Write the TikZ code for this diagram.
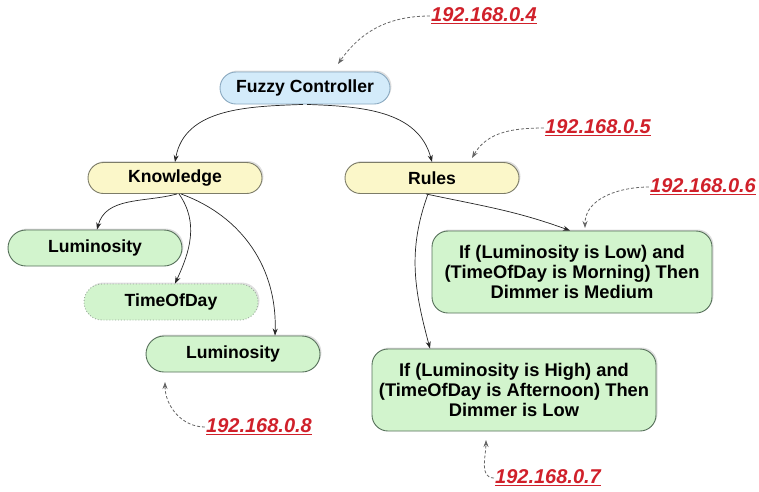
\documentclass[tikz,border=0pt]{standalone}
\usepackage{fontspec}
\setmainfont{Liberation Sans}
\usetikzlibrary{arrows.meta,shapes.misc,shadows}
\definecolor{fcfill}{HTML}{D3EBFA}
\definecolor{fcline}{HTML}{8AA9C0}
\definecolor{yfill}{HTML}{FBF7C9}
\definecolor{yline}{HTML}{7C7C68}
\definecolor{gfill}{HTML}{D2F4CD}
\definecolor{gline}{HTML}{56705A}
\definecolor{ipred}{HTML}{D0202A}
\tikzset{
  pill/.style={rounded rectangle, draw=#1, line width=0.9pt, font=\bfseries\fontsize{17.6}{20}\selectfont, inner sep=0pt,
    drop shadow={shadow xshift=1.5pt, shadow yshift=1.5pt, opacity=0.25}},
  ctrl/.style={pill=fcline, fill=fcfill, minimum width=170pt, minimum height=32pt},
  topic/.style={pill=yline, fill=yfill, minimum width=174pt, minimum height=31pt},
  leaf/.style={pill=gline, fill=gfill, minimum width=174pt, minimum height=36pt},
  dimleaf/.style={leaf, draw=gline!60, dotted},
  rulebox/.style={draw=gline, fill=gfill, line width=0.9pt, rounded corners=16pt, align=center,
    font=\bfseries\fontsize{18.3}{19.6}\selectfont, minimum height=82pt,
    drop shadow={shadow xshift=1.5pt, shadow yshift=1.5pt, opacity=0.25}},
  ip/.style={text=ipred, font=\bfseries\itshape\fontsize{20}{22}\selectfont, inner sep=1pt},
  link/.style={-{Stealth[length=7pt,width=5pt]}, line width=0.7pt, draw=black!85},
  hostlink/.style={-{Stealth[length=7pt,width=5pt]}, line width=0.8pt, draw=black!60, dash pattern=on 3pt off 2pt}
}
\newcommand{\ipaddr}[1]{\underline{#1}}
\begin{document}
\begin{tikzpicture}[x=1pt,y=-1pt]
\useasboundingbox (0,0) rectangle (759,491);

% tree nodes
\node[ctrl]  (fc)  at (305,88)  {Fuzzy Controller};
\node[topic] (kn)  at (175,178) {Knowledge};
\node[topic] (ru)  at (432,178) {Rules};
\node[leaf]  (lu1) at (95,248)  {Luminosity};
\node[dimleaf] (tod) at (171,302) {TimeOfDay};
\node[leaf]  (lu2) at (233,354) {Luminosity};
\node[rulebox, minimum width=280pt] (r1) at (572,272)
  {If (Luminosity is Low) and\\(TimeOfDay is Morning) Then\\Dimmer is Medium};
\node[rulebox, minimum width=284pt] (r2) at (514,390)
  {If (Luminosity is High) and\\(TimeOfDay is Afternoon) Then\\Dimmer is Low};

% host addresses
\node[ip] (h4) at (484,16)  {\ipaddr{192.168.0.4}};
\node[ip] (h5) at (598,128) {\ipaddr{192.168.0.5}};
\node[ip] (h6) at (703,187) {\ipaddr{192.168.0.6}};
\node[ip] (h8) at (259,427) {\ipaddr{192.168.0.8}};
\node[ip] (h7) at (548,478) {\ipaddr{192.168.0.7}};

% targets of the dashed host pointers
\coordinate (t4) at (338,64);
\coordinate (t5) at (472,158);
\coordinate (t6) at (585,228);
\coordinate (t8) at (165,382);
\coordinate (t7) at (486,440);

% tree links
\draw[link] ([xshift=-2pt]fc.south) to[out=182,in=80] (kn.north);
\draw[link] ([xshift=2pt]fc.south)  to[out=-2,in=105] (ru.north);
\draw[link] ([xshift=2pt]kn.south)  to[out=195,in=75] ([xshift=2pt]lu1.north);
\draw[link] ([xshift=4pt]kn.south)  to[out=-55,in=65] ([xshift=4pt]tod.north);
\draw[link] ([xshift=6pt]kn.south)  to[out=-20,in=88] ([xshift=42pt]lu2.north);
\draw[link] ([xshift=-6pt]ru.south) to[out=-12,in=160] ([xshift=-2pt]r1.north);
\draw[link] ([xshift=-4pt]ru.south) to[out=-110,in=105] ([xshift=-84pt]r2.north);

% host pointers
\draw[hostlink] (h4.west) to[out=180,in=55] (t4);
\draw[hostlink] (h5.west) to[out=180,in=60] (t5);
\draw[hostlink] (h6.west) to[out=180,in=90] (t6);
\draw[hostlink] (h8.west) to[out=180,in=-90] (t8);
\draw[hostlink] (h7.west) to[out=180,in=-90] (t7);
\end{tikzpicture}
\end{document}
